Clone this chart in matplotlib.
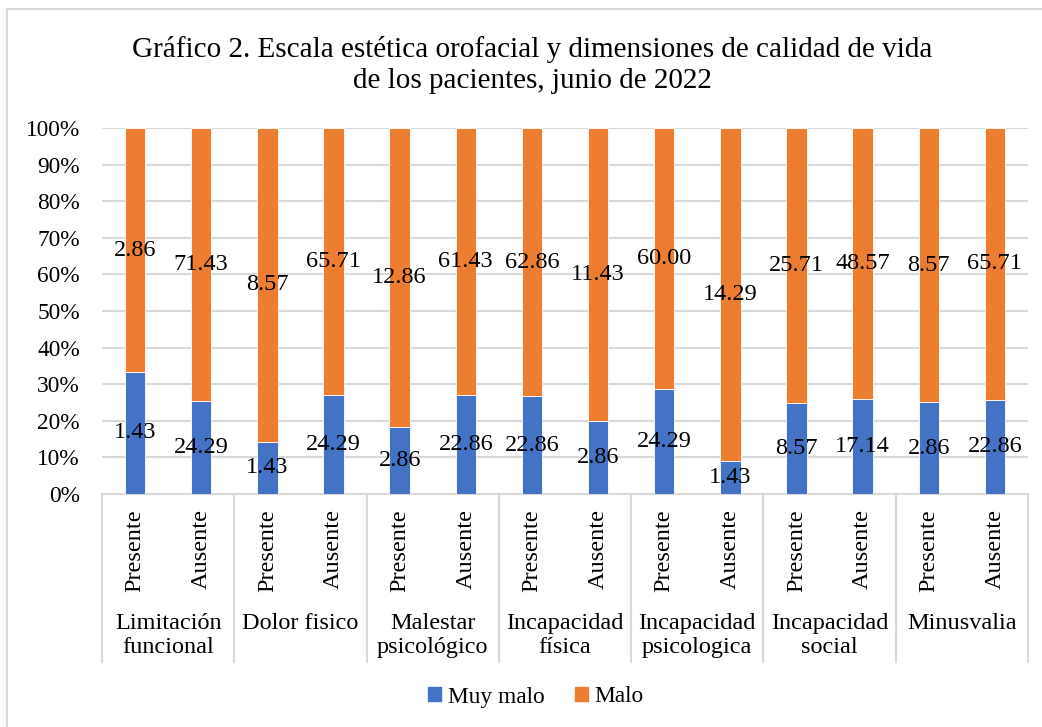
import matplotlib.pyplot as plt
from matplotlib.patches import Patch, Rectangle
import numpy as np

# datos del grafico (valores de las etiquetas)
groups = ["Limitación\nfuncional", "Dolor fisico", "Malestar\npsicológico", "Incapacidad\nfísica",
          "Incapacidad\npsicologica", "Incapacidad\nsocial", "Minusvalia"]
sub_labels = ["Presente", "Ausente"]
muy_malo = [1.43, 24.29, 1.43, 24.29, 2.86, 22.86, 22.86, 2.86, 24.29, 1.43, 8.57, 17.14, 2.86, 22.86]
malo = [2.86, 71.43, 8.57, 65.71, 12.86, 61.43, 62.86, 11.43, 60.00, 14.29, 25.71, 48.57, 8.57, 65.71]
yticks = [0, 10, 20, 30, 40, 50, 60, 70, 80, 90, 100]

blue = "#4472C4"
orange = "#ED7D31"
grid_c = "#D9D9D9"

plt.rcParams['font.family'] = ['Liberation Serif', 'DejaVu Serif']

W, H = 1042, 727
fig = plt.figure(figsize=(W / 100, H / 100), dpi=100)
ax = fig.add_axes([102 / W, 1 - 494 / H, (1028 - 102) / W, (494 - 128) / H])

mm = np.array(muy_malo)
ma = np.array(malo)
tot = mm + ma
p_mm = mm / tot * 100
p_ma = ma / tot * 100
x = np.arange(len(mm))

ax.bar(x, p_mm, width=0.31, color=blue, edgecolor="white", linewidth=0.6, zorder=3)
ax.bar(x, p_ma, width=0.31, bottom=p_mm, color=orange, edgecolor="white", linewidth=0.6, zorder=3)

for i in range(len(x)):
    ax.text(x[i], p_mm[i] / 2, f"{mm[i]:.2f}", ha="center", va="center", fontsize=17.5, zorder=4)
    ax.text(x[i], p_mm[i] + p_ma[i] / 2, f"{ma[i]:.2f}", ha="center", va="center", fontsize=17.5, zorder=4)

ax.set_xlim(-0.5, len(x) - 0.5)
ax.set_ylim(0, 100)
ax.set_yticks(yticks)
ax.set_yticklabels([f"{t}%" for t in yticks], fontsize=16.8)
ax.tick_params(axis="y", length=0, pad=16)
ax.set_xticks([])
ax.yaxis.grid(True, color=grid_c, linewidth=1.5, zorder=0)
for s in ["top", "right", "left"]:
    ax.spines[s].set_visible(False)
ax.spines["bottom"].set_color(grid_c)
ax.spines["bottom"].set_linewidth(1.5)

# eje de categorias en dos niveles
tr = ax.get_xaxis_transform()
for i in range(len(x)):
    ax.text(x[i], -0.042, sub_labels[i % 2], rotation=90, ha="center", va="top",
            fontsize=17.5, transform=tr, clip_on=False)
for g in range(len(groups)):
    ax.text(2 * g + 0.5, -0.325, groups[g], ha="center", va="top", fontsize=17.5,
            transform=tr, clip_on=False, linespacing=1.2)
for b in np.arange(-0.5, len(x), 2):
    ax.plot([b, b], [0, -0.459], color=grid_c, linewidth=1.5, transform=tr, clip_on=False)

fig.text(532 / W, 1 - 65 / H, "Gráfico 2. Escala estética orofacial y dimensiones de calidad de vida\nde los pacientes, junio de 2022",
         ha="center", va="center", fontsize=21, linespacing=1.25)

fig.legend(handles=[Patch(color=blue, label="Muy malo"), Patch(color=orange, label="Malo")],
           loc="center", bbox_to_anchor=(536 / W, 1 - 697 / H), ncol=2, frameon=False, fontsize=16.8,
           handlelength=0.55, handleheight=0.55, handletextpad=0.3, columnspacing=1.3)

fig.patches.append(Rectangle((7 / W, -0.1), 1.1, 1.1 - 9 / H, transform=fig.transFigure,
                             fill=False, edgecolor=grid_c, linewidth=1.5))

fig.savefig("out.png", dpi=100)
